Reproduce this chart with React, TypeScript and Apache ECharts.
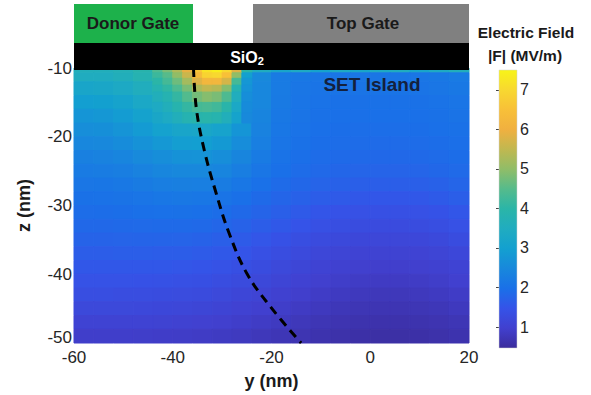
import React, { useEffect, useRef } from "react";
import * as echarts from "echarts";

// Coarse cell edges (nm)
const yEdges = [-60, -56, -52, -48, -44, -40, -36, -32, -28, -24, -20, -16, -12, -8, -4, 0, 4, 8, 12, 16, 20];
const zEdges = [-10, -10.7, -12, -14, -16, -18, -20, -22, -24, -26, -28, -30, -32, -34, -36, -38, -40, -42, -44, -46, -48, -50];

// |F| (MV/m), one row per z band (top to bottom), one value per y cell (left to right)
const field: number[][] = [
  [3.6, 3.6, 3.7, 3.9, 4.5, 6.0, 7.3, 7.1, 5.0, 3.5, 3.2, 3.4, 3.1, 3.4, 3.2, 3.4, 3.5, 3.2, 3.4, 3.6],
  [3.5, 3.5, 3.6, 3.8, 4.3, 5.3, 6.3, 6.0, 3.9, 2.5, 2.2, 2.15, 2.1, 2.1, 2.1, 2.1, 2.1, 2.1, 2.15, 2.2],
  [3.2, 3.25, 3.35, 3.55, 3.95, 4.6, 5.0, 4.7, 3.4, 2.45, 2.2, 2.1, 2.05, 2.05, 2.05, 2.05, 2.05, 2.05, 2.1, 2.15],
  [2.95, 3.0, 3.1, 3.3, 3.6, 4.0, 4.2, 4.0, 3.15, 2.45, 2.18, 2.08, 2.03, 2.0, 2.0, 2.0, 2.0, 2.0, 2.03, 2.08],
  [2.75, 2.8, 2.9, 3.07, 3.3, 3.55, 3.65, 3.5, 2.95, 2.4, 2.15, 2.06, 2.0, 1.98, 1.97, 1.97, 1.97, 1.98, 2.0, 2.04],
  [2.6, 2.63, 2.72, 2.87, 3.05, 3.2, 3.25, 3.12, 2.75, 2.35, 2.12, 2.03, 1.98, 1.95, 1.94, 1.94, 1.94, 1.95, 1.97, 2.0],
  [2.45, 2.48, 2.56, 2.68, 2.82, 2.93, 2.95, 2.84, 2.58, 2.28, 2.08, 2.0, 1.95, 1.92, 1.9, 1.89, 1.89, 1.9, 1.93, 1.96],
  [2.32, 2.35, 2.41, 2.51, 2.61, 2.69, 2.7, 2.61, 2.42, 2.2, 2.03, 1.96, 1.91, 1.88, 1.86, 1.84, 1.84, 1.86, 1.89, 1.93],
  [2.2, 2.22, 2.27, 2.35, 2.43, 2.48, 2.48, 2.41, 2.27, 2.1, 1.97, 1.9, 1.85, 1.81, 1.78, 1.76, 1.76, 1.78, 1.82, 1.87],
  [2.1, 2.11, 2.15, 2.21, 2.27, 2.3, 2.29, 2.23, 2.12, 1.99, 1.89, 1.82, 1.76, 1.71, 1.68, 1.66, 1.66, 1.68, 1.72, 1.78],
  [2.0, 2.01, 2.04, 2.08, 2.12, 2.14, 2.12, 2.07, 1.98, 1.88, 1.79, 1.71, 1.64, 1.59, 1.55, 1.53, 1.53, 1.55, 1.6, 1.66],
  [1.92, 1.93, 1.95, 1.97, 1.99, 2.0, 1.98, 1.93, 1.86, 1.77, 1.68, 1.59, 1.51, 1.45, 1.41, 1.39, 1.39, 1.41, 1.46, 1.53],
  [1.84, 1.84, 1.86, 1.87, 1.88, 1.88, 1.86, 1.81, 1.74, 1.65, 1.56, 1.47, 1.39, 1.33, 1.29, 1.27, 1.27, 1.29, 1.34, 1.41],
  [1.75, 1.75, 1.76, 1.77, 1.77, 1.76, 1.73, 1.68, 1.61, 1.52, 1.43, 1.34, 1.27, 1.21, 1.17, 1.15, 1.15, 1.17, 1.22, 1.29],
  [1.65, 1.65, 1.66, 1.66, 1.65, 1.64, 1.61, 1.56, 1.49, 1.4, 1.31, 1.23, 1.16, 1.1, 1.06, 1.04, 1.04, 1.06, 1.1, 1.17],
  [1.55, 1.55, 1.55, 1.55, 1.54, 1.52, 1.49, 1.44, 1.37, 1.29, 1.2, 1.12, 1.05, 1.0, 0.96, 0.94, 0.94, 0.96, 1.0, 1.06],
  [1.44, 1.44, 1.44, 1.43, 1.42, 1.4, 1.37, 1.32, 1.25, 1.18, 1.1, 1.03, 0.96, 0.91, 0.87, 0.85, 0.85, 0.87, 0.91, 0.97],
  [1.33, 1.33, 1.32, 1.31, 1.3, 1.28, 1.25, 1.2, 1.14, 1.07, 1.0, 0.94, 0.88, 0.83, 0.79, 0.77, 0.77, 0.79, 0.83, 0.88],
  [1.2, 1.2, 1.2, 1.19, 1.17, 1.15, 1.12, 1.08, 1.03, 0.97, 0.91, 0.85, 0.8, 0.75, 0.72, 0.7, 0.7, 0.72, 0.75, 0.8],
  [1.06, 1.06, 1.06, 1.05, 1.04, 1.02, 0.99, 0.96, 0.92, 0.87, 0.82, 0.77, 0.72, 0.68, 0.65, 0.63, 0.63, 0.65, 0.68, 0.72],
  [0.92, 0.92, 0.92, 0.91, 0.9, 0.89, 0.87, 0.84, 0.81, 0.77, 0.73, 0.69, 0.65, 0.61, 0.58, 0.56, 0.56, 0.58, 0.61, 0.65],
];

// Finer patch around the hot spot under the donor-gate edge
const spotYEdges = [-44, -42, -40, -38, -36, -34, -32, -30, -28, -26, -24];
const spotZEdges = [-10, -10.7, -11.5, -12.5, -13.5, -15, -16.5, -18];
const spotField: number[][] = [
  [4.4, 4.8, 5.3, 5.9, 6.6, 7.2, 7.4, 7.0, 5.8, 4.0],
  [4.2, 4.5, 5.0, 5.6, 6.3, 6.9, 7.0, 6.5, 5.0, 3.0],
  [4.0, 4.3, 4.7, 5.2, 5.8, 6.2, 6.2, 5.7, 4.3, 2.8],
  [3.8, 4.05, 4.4, 4.8, 5.3, 5.5, 5.4, 4.9, 3.8, 2.7],
  [3.6, 3.8, 4.1, 4.45, 4.75, 4.9, 4.8, 4.4, 3.55, 2.6],
  [3.4, 3.6, 3.85, 4.1, 4.3, 4.35, 4.25, 3.95, 3.3, 2.55],
  [3.25, 3.4, 3.6, 3.8, 3.9, 3.95, 3.85, 3.6, 3.1, 2.5],
];

// Dashed trajectory
const pathY = [-35.8, -35.2, -33.6, -31.3, -28.6, -24.9, -19.9, -14.0];
const pathZ = [-10, -16, -22, -28, -34, -40, -45, -50];

const colorbarTicks = [1, 2, 3, 4, 5, 6, 7];
const fieldMin = 0.47;
const fieldMax = 7.5;

const parula = [
  "#3b2c9c", "#4140cf", "#3553e8", "#1a70e8", "#1888dc", "#13a0d0", "#20acc0", "#2ab5a8",
  "#55bb8c", "#90bd68", "#c0b850", "#f0b040", "#f8c038", "#f8d830", "#f8f418",
];

const FONT = "'Liberation Sans', Arial, sans-serif";

export default function App() {
  const ref = useRef<HTMLDivElement>(null);
  useEffect(() => {
    if (!ref.current) return;
    const chart = echarts.init(ref.current, undefined, { renderer: "svg" });

    const cells: number[][] = [];
    const addGrid = (xe: number[], ze: number[], vals: number[][]) => {
      for (let r = 0; r < vals.length; r++) {
        for (let c = 0; c < vals[r].length; c++) {
          cells.push([xe[c], xe[c + 1], ze[r], ze[r + 1], vals[r][c]]);
        }
      }
    };
    addGrid(yEdges, zEdges, field);
    addGrid(spotYEdges, spotZEdges, spotField);
    const linePts = pathY.map((y, i) => [y, pathZ[i]]);

    const stops = parula.map((col, i) => ({ offset: 1 - i / (parula.length - 1), color: col })).reverse();

    const option: any = {
      animation: false,
      grid: [
        { left: 74, right: 122, top: 68, bottom: 47 },
        { left: 499, width: 18, top: 70, bottom: 47 },
      ],
      xAxis: [
        {
          gridIndex: 0,
          type: "value",
          min: -60,
          max: 20,
          interval: 20,
          name: "y (nm)",
          nameLocation: "middle",
          nameGap: 29,
          nameTextStyle: { fontFamily: FONT, fontSize: 18, fontWeight: "bold", color: "#1a1a1a" },
          axisLine: { show: false },
          axisTick: { show: false },
          splitLine: { show: false },
          axisLabel: { fontFamily: FONT, fontSize: 17, color: "#262626", margin: 6 },
        },
        { gridIndex: 1, type: "value", min: 0, max: 1, show: false },
      ],
      yAxis: [
        {
          gridIndex: 0,
          type: "value",
          min: -50,
          max: -10,
          interval: 10,
          name: "z (nm)",
          nameLocation: "middle",
          nameGap: 41,
          nameRotate: 90,
          nameTextStyle: { fontFamily: FONT, fontSize: 18, fontWeight: "bold", color: "#1a1a1a" },
          axisLine: { show: false },
          axisTick: { show: false },
          splitLine: { show: false },
          axisLabel: {
            fontFamily: FONT,
            fontSize: 17,
            color: "#262626",
            margin: 2,
            formatter: (v: number) => (v === -50 ? `{lo|${v}}` : `${v}`),
            rich: {
              lo: { fontFamily: FONT, fontSize: 17, color: "#262626", padding: [0, 0, 12, 0] },
            },
          },
        },
        {
          gridIndex: 1,
          type: "value",
          min: fieldMin,
          max: fieldMax,
          position: "right",
          axisLine: { show: false },
          axisTick: {
            show: true,
            inside: true,
            length: 3,
            lineStyle: { color: "#444" },
            customValues: colorbarTicks,
          },
          splitLine: { show: false },
          axisLabel: {
            fontFamily: FONT,
            fontSize: 16,
            color: "#262626",
            margin: 3,
            customValues: colorbarTicks,
          },
        },
      ],
      visualMap: {
        type: "continuous",
        show: false,
        min: fieldMin,
        max: fieldMax,
        dimension: 4,
        seriesIndex: 0,
        inRange: { color: parula },
      },
      series: [
        {
          type: "custom",
          xAxisIndex: 0,
          yAxisIndex: 0,
          data: cells,
          encode: { x: [0, 1], y: [2, 3] },
          z: 1,
          renderItem: (params: any, api: any) => {
            const p0 = api.coord([api.value(0), api.value(2)]);
            const p1 = api.coord([api.value(1), api.value(3)]);
            const col = api.visual("color");
            return {
              type: "rect",
              shape: {
                x: p0[0],
                y: Math.min(p0[1], p1[1]),
                width: p1[0] - p0[0],
                height: Math.abs(p1[1] - p0[1]),
              },
              style: { fill: col, stroke: col, lineWidth: 1 },
            };
          },
        },
        {
          type: "line",
          xAxisIndex: 0,
          yAxisIndex: 0,
          data: linePts,
          smooth: 0.4,
          symbol: "none",
          z: 5,
          lineStyle: { color: "#000", width: 3, type: [9, 6] },
        },
        {
          type: "custom",
          xAxisIndex: 1,
          yAxisIndex: 1,
          data: [[0, 1, fieldMin, fieldMax]],
          z: 1,
          renderItem: (params: any, api: any) => {
            const a = api.coord([0, fieldMax]);
            const b = api.coord([1, fieldMin]);
            return {
              type: "rect",
              shape: { x: a[0], y: a[1], width: b[0] - a[0], height: b[1] - a[1] },
              style: {
                fill: new echarts.graphic.LinearGradient(0, 0, 0, 1, stops),
                stroke: "#d0d0d0",
                lineWidth: 0.5,
              },
            };
          },
        },
      ],
      graphic: [
        { type: "rect", shape: { x: 74, y: 4, width: 119, height: 40 }, style: { fill: "#1db14b" }, z: 10 },
        { type: "rect", shape: { x: 253, y: 4, width: 216, height: 40 }, style: { fill: "#808080" }, z: 10 },
        { type: "rect", shape: { x: 74, y: 43, width: 395, height: 27 }, style: { fill: "#000" }, z: 10 },
        {
          type: "text",
          x: 133,
          y: 23,
          z: 11,
          style: { text: "Donor Gate", fontFamily: FONT, fontSize: 17, fontWeight: "bold", fill: "#1a1a1a", align: "center", verticalAlign: "middle" },
        },
        {
          type: "text",
          x: 363,
          y: 23,
          z: 11,
          style: { text: "Top Gate", fontFamily: FONT, fontSize: 17, fontWeight: "bold", fill: "#1a1a1a", align: "center", verticalAlign: "middle" },
        },
        {
          type: "text",
          x: 247,
          y: 57,
          z: 11,
          style: {
            text: "{a|SiO}{b|2}",
            align: "center",
            verticalAlign: "middle",
            rich: {
              a: { fontFamily: FONT, fontSize: 16, fontWeight: "bold", fill: "#fff", color: "#fff" },
              b: { fontFamily: FONT, fontSize: 11, fontWeight: "bold", fill: "#fff", color: "#fff", padding: [8, 0, 0, 0] },
            },
          },
        },
        {
          type: "text",
          x: 372,
          y: 84,
          z: 11,
          style: { text: "SET Island", fontFamily: FONT, fontSize: 19, fontWeight: "bold", fill: "#14213d", align: "center", verticalAlign: "middle" },
        },
        {
          type: "text",
          x: 526,
          y: 32,
          z: 11,
          style: { text: "Electric Field", fontFamily: FONT, fontSize: 15.5, fontWeight: "bold", fill: "#1a1a1a", align: "center", verticalAlign: "middle" },
        },
        {
          type: "text",
          x: 525,
          y: 55,
          z: 11,
          style: { text: "|F| (MV/m)", fontFamily: FONT, fontSize: 15.5, fontWeight: "bold", fill: "#1a1a1a", align: "center", verticalAlign: "middle" },
        },
      ],
    };
    chart.setOption(option);
    return () => chart.dispose();
  }, []);
  return <div ref={ref} style={{ width: 591, height: 395, position: "absolute", left: 0, top: 0 }} />;
}
